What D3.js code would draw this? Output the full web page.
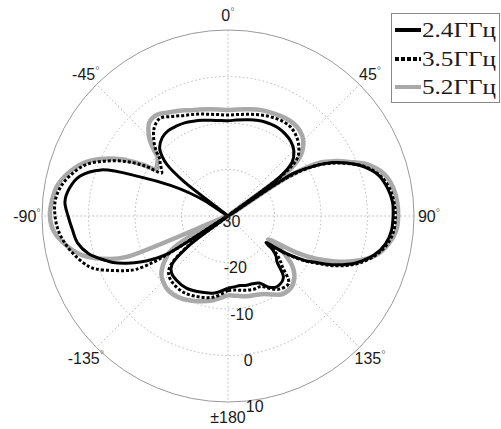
<!DOCTYPE html>
<html>
<head>
<meta charset="utf-8">
<script src="https://cdn.jsdelivr.net/npm/d3@7"></script>
<style>
  body { margin: 0; background: #fff; }
  svg { display: block; }
</style>
</head>
<body>
<div id="polarChart"></div>
<script>
// angles in degrees, 0 at top, clockwise
var angles = [
  -180, -170, -160, -150, -141, -135, -131, -127, -124, -122, -120, -118,
  -115, -112, -110, -105, -100, -95, -90, -85, -80, -75, -70, -66,
  -62, -59, -57, -55, -52, -50, -48, -45, -40, -35, -30, -25,
  -20, -15, -10, -5, 0, 5, 10, 15, 20, 25, 30, 35,
  40, 45, 50, 53, 55, 57, 60, 63, 66, 70, 75, 80,
  85, 90, 95, 100, 105, 110, 113, 116, 118, 120, 123, 125,
  127, 130, 133, 138, 145, 150, 155, 160, 165, 170, 175, 180
];

// gain, dB
var gain24 = [
  -14.5, -13.2, -12.6, -12.1, -12.3, -12.8, -14, -20, -30, -14.5, -11.5, -9,
  -6, -3.3, -2, 1.1, 2.9, 3.6, 4.4, 5.2, 4.6, 3.0, -1.0, -9.3,
  -16, -20.5, -24, -30, -18, -13, -11, -9.2, -8, -7.6, -7.7, -7.9,
  -8.3, -8.7, -9.1, -9.4, -9.5, -9.3, -9, -8.6, -8.3, -8.2, -8.2, -8.5,
  -9, -10, -12, -16, -30, -13, -8.5, -4.7, -2, 1, 3.6, 4.8,
  5.5, 5.5, 5.3, 4.4, 2.5, -0.6, -3.2, -6.3, -8.8, -10.8, -15.5, -20,
  -18, -16.5, -15.6, -12.2, -11.5, -12.3, -14.1, -14.5, -14.6, -14.8, -14.7, -14.5
];
var gain35 = [
  -14, -12.3, -11.5, -11, -11.3, -12, -13.5, -19, -30, -12, -7, -5,
  -2.3, 0.5, 1.8, 3.8, 5.4, 6.6, 7.2, 7.3, 6.5, 4.8, 2.4, -1.0,
  -5, -9, -13, -12.5, -11.5, -10.8, -9.3, -7.5, -5.3, -4.4, -5.3, -6.2,
  -6.8, -7.3, -7.8, -8.1, -8.3, -8.1, -7.8, -7.4, -7, -6.7, -6.5, -6.6,
  -7.3, -8.5, -10.5, -15, -30, -15, -8.5, -5, -2.2, 1.2, 3.8, 5.2,
  5.8, 6, 5.8, 4.8, 2.8, -0.2, -2.7, -5.8, -8.4, -10.5, -15, -20,
  -17.5, -15.5, -14, -10.5, -10.8, -12, -13.3, -13.3, -13.5, -13.8, -14, -14
];
var gain52 = [
  -13, -11.6, -10.5, -9.6, -9.5, -10.2, -11, -12.5, -14, -15, -17, -22,
  -30, -6.5, -3, 2.5, 5.5, 7.6, 8.3, 8, 7.3, 5.6, 3.2, 0.1,
  -4, -8.5, -11.7, -11.3, -10.8, -10.2, -8.4, -6, -3.7, -3.4, -4.3, -5,
  -5.8, -6.3, -6.7, -7, -7.2, -7, -6.7, -6.3, -6, -5.8, -5.6, -5.6,
  -6, -7.1, -9.5, -13, -30, -14, -7, -4, -1.4, 2.2, 4.8, 6,
  6.5, 6.6, 6.3, 5, 2.8, -1.5, -5, -9, -13, -20, -16, -14.5,
  -13, -11.5, -10.5, -9.5, -9.5, -10.5, -11.5, -12, -12.2, -12.5, -12.8, -13
];

var seriesNames = ["2.4ГГц", "3.5ГГц", "5.2ГГц"];
var angleTicks = [0, 45, 90, 135, 180, -135, -90, -45];
var angleTickLabels = ["0", "45", "90", "135", "±180", "-135", "-90", "-45"];
var radialTicks = [-30, -20, -10, 0, 10];

var width = 501, height = 429;
var cx = 228, cy = 216, outerR = 186;

var svg = d3.select("#polarChart")
  .append("svg")
  .attr("width", width)
  .attr("height", height);

var g = svg.append("g")
  .attr("transform", "translate(" + cx + "," + cy + ")");

var r = d3.scaleLinear().domain([-30, 10]).range([0, outerR]).clamp(true);
var rad = function (deg) { return deg * Math.PI / 180; };

// rings
g.selectAll(".ring")
  .data(radialTicks.slice(1, -1))
  .enter()
  .append("circle")
  .attr("r", function (d) { return r(d); })
  .attr("fill", "none")
  .attr("stroke", "#b5b5b5")
  .attr("stroke-dasharray", "1.5,2.5");

// spokes
g.selectAll(".spoke")
  .data([0, 45, 90, 135])
  .enter()
  .append("line")
  .attr("x1", function (d) { return outerR * Math.sin(rad(d)); })
  .attr("y1", function (d) { return -outerR * Math.cos(rad(d)); })
  .attr("x2", function (d) { return -outerR * Math.sin(rad(d)); })
  .attr("y2", function (d) { return outerR * Math.cos(rad(d)); })
  .attr("stroke", "#b5b5b5")
  .attr("stroke-dasharray", "1.5,2.5");

// outer circle
g.append("circle")
  .attr("r", outerR)
  .attr("fill", "none")
  .attr("stroke", "#9a9a9a")
  .attr("stroke-width", 1);

// pattern lines
var line = d3.lineRadial()
  .angle(function (d) { return rad(d[0]); })
  .radius(function (d) { return r(d[1]); })
  .curve(d3.curveCatmullRom.alpha(0.5));

var pts = function (vals) {
  return angles.map(function (t, i) { return [t, vals[i]]; });
};

g.append("path")
  .attr("d", line(pts(gain52)))
  .attr("fill", "none")
  .attr("stroke", "#a9a9a9")
  .attr("stroke-width", 4.5)
  .attr("stroke-linejoin", "round");

g.append("path")
  .attr("d", line(pts(gain24)))
  .attr("fill", "none")
  .attr("stroke", "#000")
  .attr("stroke-width", 3)
  .attr("stroke-linejoin", "round");

g.append("path")
  .attr("d", line(pts(gain35)))
  .attr("fill", "none")
  .attr("stroke", "#000")
  .attr("stroke-width", 3)
  .attr("stroke-dasharray", "3,2");

// angle labels
var labelR = 201;
var angleLabels = g.selectAll(".alabel")
  .data(angleTicks)
  .enter()
  .append("text")
  .attr("x", function (d) { return labelR * Math.sin(rad(d)); })
  .attr("y", function (d) { return -labelR * Math.cos(rad(d)); })
  .attr("text-anchor", "middle")
  .attr("dominant-baseline", "central")
  .style("font-family", "'Liberation Sans', Arial, sans-serif")
  .style("font-size", "16px")
  .style("fill", "#1a1a1a");

angleLabels.append("tspan")
  .text(function (d, i) { return angleTickLabels[i]; });
angleLabels.filter(function (d) { return d !== 180; })
  .append("tspan")
  .attr("dy", -4)
  .style("font-size", "11px")
  .style("fill", "#777")
  .text("°");

// radial labels along 172 deg
g.selectAll(".rlabel")
  .data(radialTicks)
  .enter()
  .append("text")
  .attr("x", function (d) { return (r(d) + 6) * Math.sin(rad(172)); })
  .attr("y", function (d) { return -(r(d) + 6) * Math.cos(rad(172)); })
  .attr("text-anchor", "middle")
  .attr("dominant-baseline", "central")
  .style("font-family", "'Liberation Sans', Arial, sans-serif")
  .style("font-size", "16px")
  .style("fill", "#1a1a1a")
  .text(function (d) { return d; });

// legend
var legend = svg.append("g");
legend.append("rect")
  .attr("x", 391.5)
  .attr("y", 13.5)
  .attr("width", 108)
  .attr("height", 89)
  .attr("fill", "#fff")
  .attr("stroke", "#888");

var legendRows = [30, 59, 87];
var legendStyles = [
  { color: "#000", width: 4, dash: null },
  { color: "#000", width: 4, dash: "4,2" },
  { color: "#a9a9a9", width: 4, dash: null }
];

seriesNames.forEach(function (name, i) {
  legend.append("line")
    .attr("x1", 395)
    .attr("x2", 421)
    .attr("y1", legendRows[i])
    .attr("y2", legendRows[i])
    .attr("stroke", legendStyles[i].color)
    .attr("stroke-width", legendStyles[i].width)
    .attr("stroke-dasharray", legendStyles[i].dash);
  legend.append("text")
    .attr("x", 422)
    .attr("y", legendRows[i] + 7)
    .attr("textLength", 74)
    .attr("lengthAdjust", "spacingAndGlyphs")
    .style("font-family", "'Liberation Serif', 'Times New Roman', serif")
    .style("font-size", "21px")
    .style("fill", "#1a1a1a")
    .text(name);
});
</script>
</body>
</html>
